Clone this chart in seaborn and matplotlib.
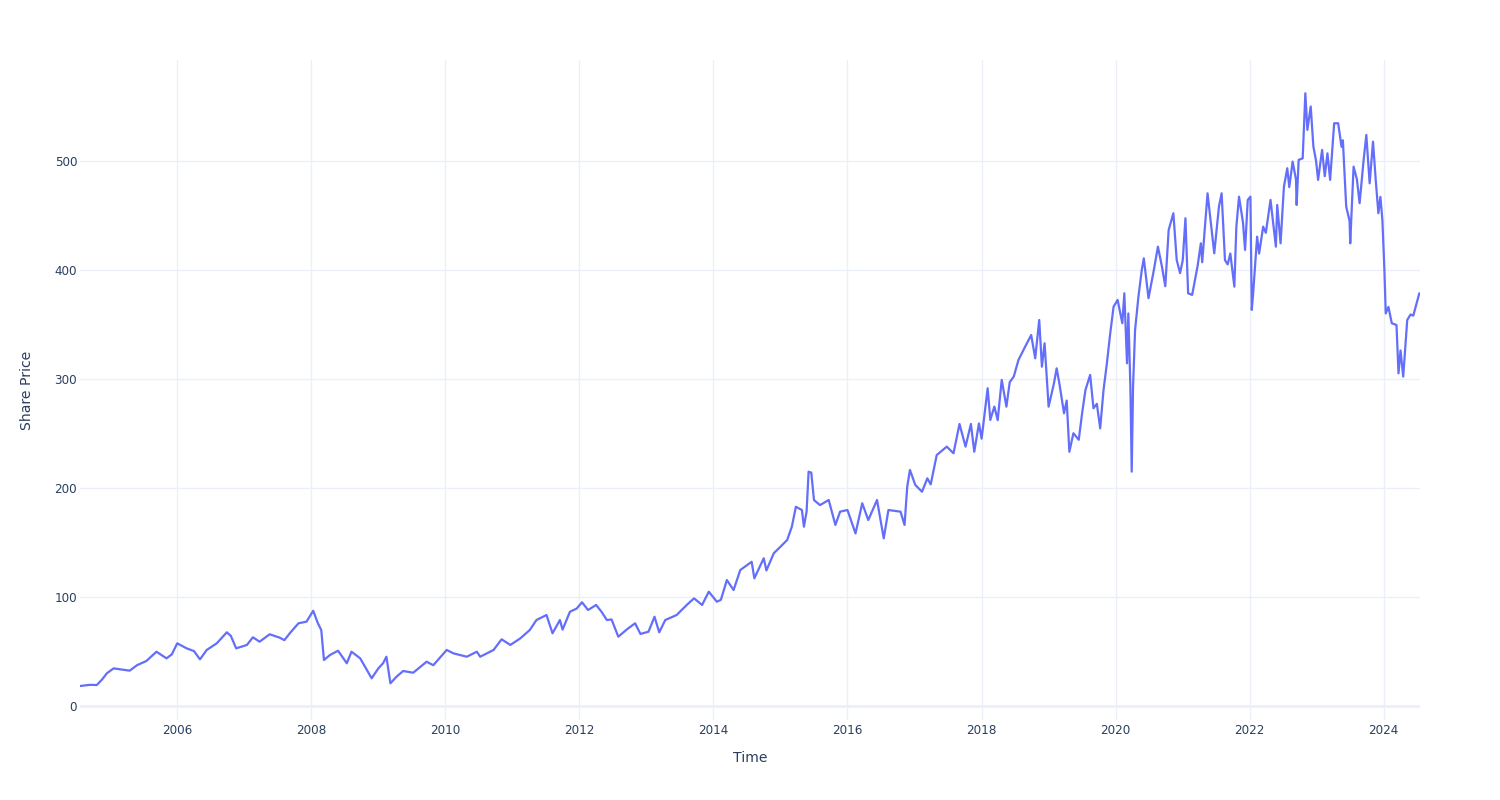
import matplotlib
matplotlib.use("Agg")
import matplotlib.pyplot as plt
import matplotlib.dates as mdates
import numpy as np
import pandas as pd
import seaborn as sns

# decimal year positions of readings
years = [
    2004.55, 2004.70, 2004.80, 2004.88, 2004.95, 2005.05, 2005.17, 2005.29, 2005.40, 2005.54,
    2005.69, 2005.84, 2005.92, 2006.00, 2006.14, 2006.25, 2006.34, 2006.44, 2006.59, 2006.74,
    2006.80, 2006.88, 2007.04, 2007.13, 2007.23, 2007.38, 2007.53, 2007.60, 2007.68, 2007.81,
    2007.93, 2008.03, 2008.10, 2008.15, 2008.19, 2008.28, 2008.40, 2008.53, 2008.60, 2008.73,
    2008.83, 2008.90, 2009.00, 2009.07, 2009.12, 2009.18, 2009.27, 2009.37, 2009.52, 2009.72,
    2009.82, 2010.02, 2010.12, 2010.32, 2010.47, 2010.52, 2010.72, 2010.84, 2010.97, 2011.12,
    2011.26, 2011.36, 2011.51, 2011.60, 2011.71, 2011.75, 2011.86, 2011.96, 2012.04, 2012.13,
    2012.25, 2012.33, 2012.41, 2012.48, 2012.58, 2012.71, 2012.83, 2012.91, 2013.03, 2013.12,
    2013.19, 2013.28, 2013.45, 2013.60, 2013.71, 2013.83, 2013.93, 2014.05, 2014.11, 2014.20,
    2014.30, 2014.40, 2014.57, 2014.61, 2014.75, 2014.79, 2014.90, 2015.00, 2015.10, 2015.17,
    2015.23, 2015.32, 2015.35, 2015.39, 2015.42, 2015.46, 2015.50, 2015.59, 2015.72, 2015.82,
    2015.89, 2016.00, 2016.12, 2016.22, 2016.31, 2016.44, 2016.54, 2016.61, 2016.79, 2016.85,
    2016.89, 2016.93, 2017.01, 2017.11, 2017.19, 2017.24, 2017.33, 2017.48, 2017.58, 2017.67,
    2017.76, 2017.84, 2017.89, 2017.96, 2018.00, 2018.09, 2018.13, 2018.19, 2018.24, 2018.30,
    2018.37, 2018.42, 2018.48, 2018.55, 2018.65, 2018.74, 2018.80, 2018.86, 2018.90, 2018.94,
    2019.00, 2019.08, 2019.12, 2019.16, 2019.23, 2019.27, 2019.31, 2019.37, 2019.45, 2019.50,
    2019.55, 2019.62, 2019.67, 2019.72, 2019.77, 2019.82, 2019.87, 2019.92, 2019.97, 2020.03,
    2020.10, 2020.13, 2020.17, 2020.19, 2020.22, 2020.24, 2020.26, 2020.29, 2020.34, 2020.39,
    2020.42, 2020.49, 2020.57, 2020.63, 2020.69, 2020.74, 2020.79, 2020.86, 2020.91, 2020.96,
    2021.00, 2021.04, 2021.08, 2021.14, 2021.22, 2021.27, 2021.29, 2021.37, 2021.42, 2021.47,
    2021.54, 2021.58, 2021.63, 2021.67, 2021.71, 2021.77, 2021.80, 2021.84, 2021.90, 2021.93,
    2021.97, 2022.01, 2022.03, 2022.05, 2022.11, 2022.14, 2022.20, 2022.24, 2022.31, 2022.39,
    2022.41, 2022.46, 2022.51, 2022.56, 2022.59, 2022.64, 2022.69, 2022.70, 2022.73, 2022.79,
    2022.83, 2022.86, 2022.91, 2022.95, 2022.99, 2023.02, 2023.08, 2023.12, 2023.16, 2023.20,
    2023.26, 2023.32, 2023.37, 2023.39, 2023.41, 2023.44, 2023.49, 2023.50, 2023.55, 2023.60,
    2023.64, 2023.70, 2023.74, 2023.79, 2023.84, 2023.88, 2023.92, 2023.95, 2023.98, 2024.01,
    2024.03, 2024.07, 2024.12, 2024.19, 2024.22, 2024.25, 2024.29, 2024.35, 2024.40, 2024.44,
    2024.53,
]

prices = [
    17.9, 19.0, 18.8, 24.0, 29.6, 34.1, 33.0, 32.0, 37.0, 40.9,
    49.4, 43.3, 47.0, 57.1, 52.5, 50.0, 42.4, 51.0, 57.1, 67.2,
    64.0, 52.5, 55.6, 62.6, 58.6, 65.4, 62.3, 60.0, 66.3, 75.5,
    77.0, 87.0, 75.5, 69.3, 41.8, 46.4, 50.3, 38.8, 49.4, 43.3,
    32.6, 25.0, 34.1, 38.8, 44.8, 20.4, 26.4, 31.7, 30.1, 40.2,
    37.0, 51.0, 47.9, 44.8, 49.4, 44.8, 51.0, 60.8, 55.6, 61.7,
    69.3, 78.5, 83.1, 66.3, 78.5, 69.7, 86.1, 89.0, 94.8, 87.7,
    92.3, 86.1, 78.5, 79.0, 63.2, 70.0, 75.5, 65.7, 67.8, 81.5,
    67.2, 78.5, 83.1, 92.3, 98.4, 92.3, 104.5, 95.3, 97.0, 115.2,
    106.0, 124.4, 132.0, 116.8, 135.2, 124.0, 139.8, 145.8, 152.0, 164.2,
    182.5, 179.5, 164.2, 178.0, 214.7, 213.8, 188.7, 184.0, 188.7, 165.8,
    178.0, 179.5, 158.0, 185.7, 170.3, 188.7, 153.5, 179.5, 178.0, 165.8,
    201.0, 216.3, 202.5, 196.3, 208.6, 203.0, 230.0, 237.7, 231.6, 258.5,
    237.7, 258.5, 233.0, 259.0, 245.0, 291.3, 262.2, 274.5, 262.0, 299.0,
    274.4, 297.0, 302.0, 317.3, 329.5, 340.2, 318.8, 354.0, 311.1, 332.6,
    274.4, 295.9, 309.6, 296.0, 268.3, 280.0, 233.0, 250.0, 244.0, 268.3,
    289.7, 303.5, 272.9, 277.0, 254.5, 289.7, 314.2, 341.8, 366.2, 372.4,
    351.0, 378.5, 314.2, 360.0, 292.7, 214.7, 292.7, 344.8, 375.4, 400.0,
    410.6, 374.0, 400.0, 421.3, 403.0, 385.0, 436.6, 452.0, 409.0, 397.0,
    409.0, 447.4, 378.5, 377.0, 403.0, 424.4, 407.0, 470.3, 442.8, 415.2,
    458.0, 470.3, 409.0, 405.0, 415.0, 384.6, 439.7, 467.2, 443.0, 418.3,
    464.2, 467.2, 363.2, 378.0, 430.5, 415.0, 439.7, 434.0, 464.2, 421.3,
    459.6, 424.4, 476.4, 493.3, 476.0, 499.4, 483.0, 459.6, 501.0, 502.4,
    562.2, 528.5, 550.0, 513.2, 500.0, 482.6, 510.1, 486.0, 507.0, 482.6,
    534.6, 534.6, 513.0, 519.0, 494.8, 458.0, 445.0, 424.4, 494.8, 483.0,
    461.2, 501.0, 523.9, 479.5, 517.7, 483.0, 452.0, 467.0, 445.8, 400.0,
    360.0, 366.0, 351.0, 349.4, 305.0, 326.0, 302.0, 354.0, 359.0, 358.0,
    378.5,
]

y_ticks = [0, 100, 200, 300, 400, 500]
x_tick_years = [2006, 2008, 2010, 2012, 2014, 2016, 2018, 2020, 2022, 2024]


def to_date(y):
    yr = int(np.floor(y))
    start = pd.Timestamp(year=yr, month=1, day=1)
    end = pd.Timestamp(year=yr + 1, month=1, day=1)
    return start + (end - start) * (y - yr)


df = pd.DataFrame({"Time": [to_date(y) for y in years], "Share Price": prices})

sns.set_theme(style="white")
plt.rcParams["font.family"] = ["DejaVu Sans"]

TXT = "#2a3f5f"
GRID = "#EBF0F8"

fig = plt.figure(figsize=(15, 8), dpi=100)
ax = fig.add_axes([80 / 1500, 80 / 800, 1340 / 1500, 660 / 800])

sns.lineplot(data=df, x="Time", y="Share Price", ax=ax, color="#636EFA",
             linewidth=1.6, zorder=3)

ax.set_xlim(to_date(2004.55), to_date(2024.54))
ax.set_ylim(-13.3, 592.7)

ax.set_yticks(y_ticks)
ax.set_xticks([pd.Timestamp(year=y, month=1, day=1) for y in x_tick_years])
ax.xaxis.set_major_formatter(mdates.DateFormatter("%Y"))

ax.grid(True, color=GRID, linewidth=1.0, zorder=0)
ax.axhline(0, color=GRID, linewidth=2.0, zorder=1)
for s in ax.spines.values():
    s.set_visible(False)

ax.tick_params(axis="both", length=0, labelsize=8.64, colors=TXT)
ax.tick_params(axis="x", pad=3)
ax.tick_params(axis="y", pad=2)

ax.set_xlabel("Time", fontsize=10.08, color=TXT, labelpad=10)
ax.set_ylabel("Share Price", fontsize=10.08, color=TXT, labelpad=15)

fig.savefig("out.png", dpi=100, facecolor="white")
